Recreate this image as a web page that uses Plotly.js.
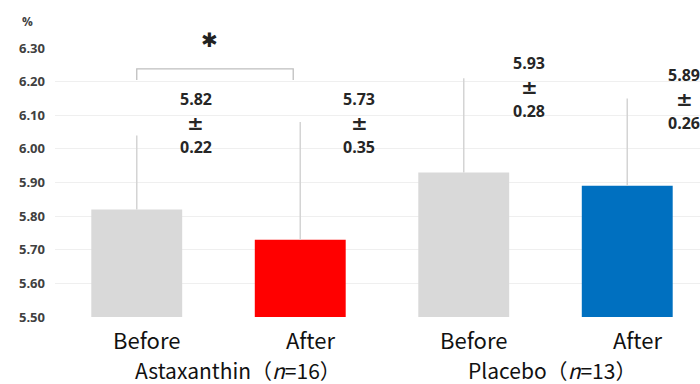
<!DOCTYPE html>
<html>
<head>
<meta charset="utf-8">
<script src="https://cdn.plot.ly/plotly-3.0.1.min.js"></script>
<style>html,body{margin:0;padding:0;background:#fff;}#chart{width:700px;height:384px;}</style>
</head>
<body>
<div id="chart"></div>
<script>
// ---- data ----
const categories = ['Before', 'After', 'Before', 'After'];
const groupLabels = ['Astaxanthin（<i>n</i>=16）', 'Placebo（<i>n</i>=13）'];
const means = [5.82, 5.73, 5.93, 5.89];
const sds = [0.22, 0.35, 0.28, 0.26];
const yTickVals = [5.5, 5.6, 5.7, 5.8, 5.9, 6.0, 6.1, 6.2, 6.3];
const yTickText = ['5.50', '5.60', '5.70', '5.80', '5.90', '6.00', '6.10', '6.20', '6.30'];
const significance = '✱';

// ---- style / layout constants ----
const barColors = ['#d9d9d9', '#ff0000', '#d9d9d9', '#0070c0'];
const labelDx = [0.36, 0.36, 0.40, 0.35];          // value label offset (category units)
const labelMid = [6.077, 6.077, 6.185, 6.149];      // y of "±" line
const groupX = [0.62, 2.54];
const boldFont = 'Open Sans, DejaVu Sans, sans-serif';
const jpFont = 'Noto Sans CJK JP, sans-serif';

const xIdx = categories.map((_, i) => i);

const trace = {
  type: 'bar',
  x: xIdx,
  y: means,
  width: 0.556,
  marker: {color: barColors, line: {width: 0}},
  error_y: {
    type: 'data', symmetric: false, array: sds, arrayminus: sds.map(() => 0),
    width: 0, thickness: 1.5, color: '#d4d4d4'
  },
  hoverinfo: 'skip',
  showlegend: false
};

const annotations = [];
means.forEach((m, i) => {
  const parts = [m.toFixed(2), '±', sds[i].toFixed(2)];
  parts.forEach((t, k) => {
    annotations.push({
      x: i + labelDx[i], y: labelMid[i], xref: 'x', yref: 'y',
      text: t, showarrow: false, yshift: 24 * (1 - k),
      xanchor: 'center', yanchor: 'middle',
      font: k === 1
        ? {family: 'DejaVu Sans, sans-serif', size: 20, color: '#262626', weight: 'bold'}
        : {family: boldFont, size: 16, color: '#262626', weight: 'bold'}
    });
  });
});
categories.forEach((c, i) => {
  annotations.push({
    x: i + 0.06, y: -0.082, xref: 'x', yref: 'paper', text: c, showarrow: false,
    xanchor: 'center', yanchor: 'middle',
    font: {family: jpFont, size: 22, color: '#111'}
  });
});
groupLabels.forEach((g, j) => {
  annotations.push({
    x: groupX[j], y: -0.196, xref: 'x', yref: 'paper', text: g, showarrow: false,
    xanchor: 'center', yanchor: 'middle',
    font: {family: jpFont, size: 21, color: '#111'}
  });
});
annotations.push({
  x: 0.446, y: 1.03, xref: 'x', yref: 'paper', text: significance, showarrow: false,
  xanchor: 'center', yanchor: 'middle',
  font: {family: 'DejaVu Sans, sans-serif', size: 20, color: '#222'}
});
annotations.push({
  x: -0.042, y: 1.097, xref: 'paper', yref: 'paper', text: '%', showarrow: false,
  xanchor: 'center', yanchor: 'middle',
  font: {family: boldFont, size: 12, color: '#404040', weight: 'bold'}
});

const layout = {
  width: 700, height: 384,
  margin: {l: 55, r: 0, t: 48, b: 67, pad: 0},
  paper_bgcolor: '#fff', plot_bgcolor: '#fff',
  xaxis: {
    range: [-0.5, 3.445], showticklabels: false, showgrid: false,
    zeroline: false, showline: false, ticks: ''
  },
  yaxis: {
    range: [5.5, 6.3], tickvals: yTickVals, ticktext: yTickText,
    showgrid: true, gridcolor: '#efefef', gridwidth: 1,
    zeroline: false, showline: false, ticks: '', ticklabelstandoff: 9,
    tickfont: {family: boldFont, size: 13, color: '#404040', weight: 'bold'}
  },
  shapes: [{
    type: 'path', xref: 'x', yref: 'y',
    path: 'M 0,6.205 L 0,6.238 L 0.957,6.238 L 0.957,6.205',
    line: {color: '#bfbfbf', width: 1.3}
  }],
  annotations: annotations
};

Plotly.newPlot('chart', [trace], layout, {displayModeBar: false, staticPlot: true});
</script>
</body>
</html>
